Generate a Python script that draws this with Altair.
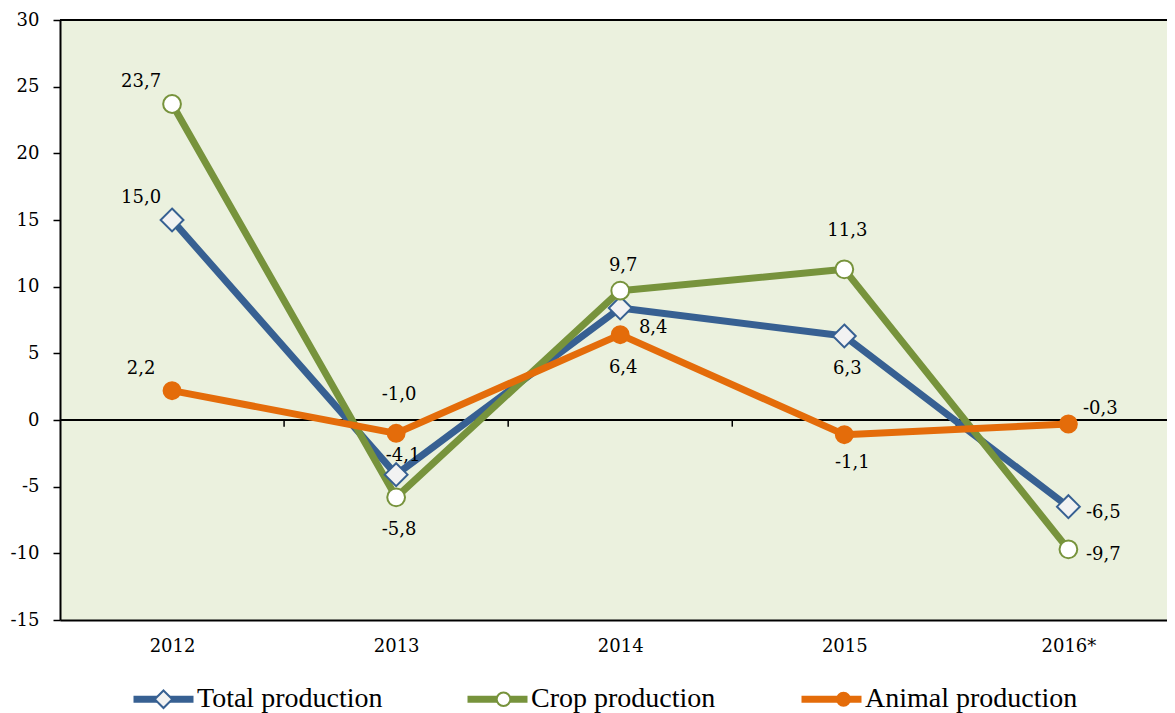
import json
import altair as alt
import pandas as pd

# ---------------- data ----------------
years = ["2012", "2013", "2014", "2015", "2016*"]
series = ["Total production", "Crop production", "Animal production"]
total = [15.0, -4.1, 8.4, 6.3, -6.5]
crop = [23.7, -5.8, 9.7, 11.3, -9.7]
animal = [2.2, -1.0, 6.4, -1.1, -0.3]

# label placement names (per series, per year)
total_pos = ["ul", "ur", "rd", "d", "r"]
crop_pos = ["ul", "d", "u", "uu", "r"]
animal_pos = ["ul", "uu", "d", "dr", "ru"]

# ---------------- styles ----------------
colors = ["#376092", "#77933C", "#E46C0A"]
fills = ["#F2F2F2", "#FFFFFF", "#E46C0A"]
OFFSETS = {
    "ul": (-31, -22), "u": (3, -25), "uu": (3, -38), "ur": (7, -19),
    "d": (3, 33), "dr": (8, 28), "rd": (33, 20), "ru": (32, -15), "r": (35, 6),
}


def circle_path(r):
    k = 0.5523 * r
    return (f"M-1,0M1,0M{r},0C{r},{k} {k},{r} 0,{r}C{-k},{r} {-r},{k} {-r},0"
            f"C{-r},{-k} {-k},{-r} 0,{-r}C{k},{-r} {r},{-k} {r},0Z")


def diamond_path(h):
    return f"M-1,0M1,0M0,{-h}L{h},0L0,{h}L{-h},0Z"


shapes = [diamond_path(0.27), circle_path(0.21), circle_path(0.2)]

rows = []
for s, vals, pos in zip(series, [total, crop, animal], [total_pos, crop_pos, animal_pos]):
    for i, (y, v, p) in enumerate(zip(years, vals, pos)):
        rows.append({"series": s, "year": y, "i": i, "value": v,
                     "label": f"{v:.1f}".replace(".", ","), "pos": p})
df = pd.DataFrame(rows)

bounds_df = pd.DataFrame({"b": [k + 0.5 for k in range(len(years) - 1)]})
one = pd.DataFrame({"v": [0]})

SERIF = "DejaVu Serif"
LEG_FONT = "Liberation Serif"

xscale = alt.Scale(domain=[-0.5, 4.44], nice=False, zero=False)
yscale = alt.Scale(domain=[-15, 30], nice=False, zero=False)

x_axis = alt.Axis(values=list(range(len(years))), labelExpr=f"{json.dumps(years)}[datum.value]",
                  ticks=False, tickSize=0, grid=False, domainColor="black", domainWidth=2,
                  labelFont=SERIF, labelFontSize=18, labelColor="black", labelPadding=26,
                  labelBaseline="middle", title=None)
y_axis = alt.Axis(values=list(range(-15, 31, 5)), labelExpr="'' + datum.value",
                  grid=False, domainColor="black", domainWidth=2, tickColor="black",
                  tickSize=7, tickWidth=1.5, labelFont=SERIF, labelFontSize=18,
                  labelColor="black", labelPadding=14, title=None)

X = alt.X("i:Q", scale=xscale, axis=x_axis)
Y = alt.Y("value:Q", scale=yscale, axis=y_axis)

leg_common = dict(orient="none", legendX=70, legendY=645.5, direction="horizontal",
                  columns=3, title=None, labelFont=LEG_FONT, labelFontSize=28,
                  labelColor="black", labelLimit=400, labelOffset=0,
                  gridAlign="all", padding=0, rowPadding=0)
line_legend = alt.Legend(symbolType="stroke", symbolSize=3600, symbolStrokeWidth=7,
                         columnPadding=43, **leg_common)
pt_legend = alt.Legend(symbolSize=4225, symbolStrokeWidth=2, labelExpr="''",
                       symbolOpacity=1, columnPadding=267, **leg_common)

base = alt.Chart(df)

top_rule = alt.Chart(one).mark_rule(color="black", strokeWidth=2).encode(y=alt.datum(30, scale=yscale))
zero_rule = alt.Chart(one).mark_rule(color="black", strokeWidth=2).encode(y=alt.datum(0))
zero_ticks = alt.Chart(bounds_df).mark_rule(color="black", strokeWidth=1.5).encode(
    x=alt.X("b:Q", scale=xscale, axis=x_axis), y=alt.datum(0), y2=alt.datum(-0.5))

lines = base.mark_line(strokeWidth=7, strokeJoin="round", strokeCap="round").encode(
    x=X, y=Y,
    color=alt.Color("series:N", scale=alt.Scale(domain=series, range=colors), legend=line_legend),
)

points = base.transform_calculate(series_pt="datum.series").mark_point(
    strokeWidth=2, opacity=1, size=7160
).encode(
    x=X, y=Y,
    shape=alt.Shape("series_pt:N", sort=None, scale=alt.Scale(range=shapes), legend=pt_legend),
    fill=alt.Fill("series_pt:N", sort=None, scale=alt.Scale(range=fills), legend=pt_legend),
    stroke=alt.Stroke("series_pt:N", sort=None, scale=alt.Scale(range=colors), legend=pt_legend),
)

texts = []
for name, (dx, dy) in OFFSETS.items():
    texts.append(
        base.transform_filter(alt.datum.pos == name).mark_text(
            dx=dx, dy=dy, font=SERIF, fontSize=18, color="black", align="center", baseline="middle"
        ).encode(x=X, y=Y, text="label:N")
    )

chart = alt.layer(top_rule, zero_rule, zero_ticks, lines, points, *texts).properties(
    width=1107, height=600,
    autosize=alt.AutoSizeParams(type="none"),
    padding={"left": 52, "top": 12, "right": 0, "bottom": 93},
    background="white",
).configure_view(fill="#EBF1DE", stroke=None)

chart.save("out.html", embed_options={"renderer": "svg", "actions": False})
